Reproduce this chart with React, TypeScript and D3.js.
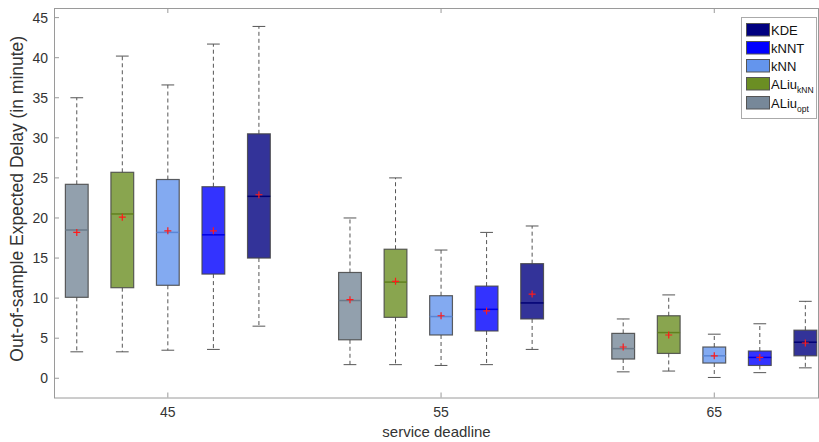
import * as React from "react";
import * as d3 from "d3";

// deadlines (x groups) and methods in left-to-right order inside each group
const deadlines = ["45", "55", "65"];
const methods = ["ALiu_opt", "ALiu_kNN", "kNN", "kNNT", "KDE"];
const methodColors = ["#778899", "#6b8e23", "#6495ed", "#0000ff", "#000080"];
const legendOrder = ["KDE", "kNNT", "kNN", "ALiu_kNN", "ALiu_opt"];

// box statistics, one row per deadline, one value per method
const lowWhisker = [
  [3.3, 3.3, 3.5, 3.6, 6.5],
  [1.7, 1.7, 1.6, 1.7, 3.6],
  [0.8, 0.9, 0.1, 0.7, 1.3],
];
const q1 = [
  [10.1, 11.3, 11.6, 13.0, 15.0],
  [4.8, 7.6, 5.4, 5.9, 7.4],
  [2.4, 3.1, 1.9, 1.6, 2.8],
];
const median = [
  [18.5, 20.5, 18.2, 17.9, 22.7],
  [9.7, 12.0, 7.7, 8.6, 9.4],
  [3.7, 5.7, 2.8, 2.6, 4.5],
];
const q3 = [
  [24.2, 25.7, 24.8, 23.9, 30.5],
  [13.2, 16.1, 10.3, 11.5, 14.3],
  [5.6, 7.8, 3.9, 3.4, 6.0],
];
const highWhisker = [
  [35.0, 40.2, 36.6, 41.7, 43.9],
  [20.0, 25.0, 16.0, 18.2, 19.0],
  [7.4, 10.4, 5.5, 6.8, 9.6],
];
const means = [
  [18.2, 20.1, 18.4, 18.4, 22.9],
  [9.8, 12.1, 7.8, 8.4, 10.5],
  [3.9, 5.4, 2.8, 2.6, 4.4],
];
const yTicks = [0, 5, 10, 15, 20, 25, 30, 35, 40, 45];

const FONT = "'Liberation Sans', Arial, Helvetica, sans-serif";

export default function App() {
  const ref = React.useRef<SVGSVGElement>(null);

  React.useEffect(() => {
    const width = 819, height = 442;
    const margin = {top: 8, right: 0, bottom: 45, left: 54};
    const svg = d3.select(ref.current);
    svg.selectAll("*").remove();

    // box positions 1..5, 7..11, 13..17
    const pos = (g: number, m: number) => g * 6 + m + 1;
    const x = d3.scaleLinear().domain([0.5, 17.3]).range([margin.left, width - margin.right]);
    const y = d3.scaleLinear().domain([-2.4, 46.2]).range([height - margin.bottom + 0.5, margin.top]);
    const bw = 0.5, cw = 0.14;
    const x0 = margin.left, x1 = width - margin.right, y0 = y.range()[0], y1 = margin.top;

    const axisColor = "#9a9a9a";
    const textColor = "#333";

    // plot box
    svg.append("rect")
      .attr("x", x0 + 0.5).attr("y", y1 + 0.5)
      .attr("width", x1 - x0 - 1).attr("height", y0 - y1)
      .attr("fill", "none").attr("stroke", axisColor).attr("stroke-width", 1);

    // ticks (inward)
    yTicks.forEach(t => {
      svg.append("line")
        .attr("x1", x0).attr("x2", x0 + 5)
        .attr("y1", y(t)).attr("y2", y(t))
        .attr("stroke", axisColor);
      svg.append("text")
        .attr("x", x0 - 6).attr("y", y(t)).attr("dy", "0.35em")
        .attr("text-anchor", "end")
        .attr("font-family", FONT).attr("font-size", 14).attr("fill", textColor)
        .text(t);
    });
    deadlines.forEach((d, g) => {
      const cx = x(pos(g, 2));
      svg.append("line")
        .attr("x1", cx).attr("x2", cx).attr("y1", y0).attr("y2", y0 - 5)
        .attr("stroke", axisColor);
      svg.append("line")
        .attr("x1", cx).attr("x2", cx).attr("y1", y1).attr("y2", y1 + 5)
        .attr("stroke", axisColor);
      svg.append("text")
        .attr("x", cx).attr("y", y0 + 19)
        .attr("text-anchor", "middle")
        .attr("font-family", FONT).attr("font-size", 14).attr("fill", textColor)
        .text(d);
    });

    // axis titles
    svg.append("text")
      .attr("x", (x0 + x1) / 2).attr("y", 437)
      .attr("text-anchor", "middle")
      .attr("font-family", FONT).attr("font-size", 15).attr("fill", textColor)
      .text("service deadline");
    svg.append("text")
      .attr("transform", `translate(23,${(y0 + y1) / 2 - 4}) rotate(-90)`)
      .attr("text-anchor", "middle")
      .attr("font-family", FONT).attr("font-size", 17.5).attr("fill", textColor)
      .text("Out-of-sample Expected Delay (in minute)");

    // boxes
    deadlines.forEach((d, g) => {
      methods.forEach((m, i) => {
        const p = pos(g, i);
        const cx = x(p);
        const col = methodColors[i];
        const grp = svg.append("g").attr("class", "box");
        // whiskers
        grp.append("line")
          .attr("x1", cx).attr("x2", cx).attr("y1", y(q3[g][i])).attr("y2", y(highWhisker[g][i]))
          .attr("stroke", "#555").attr("stroke-dasharray", "4,3");
        grp.append("line")
          .attr("x1", cx).attr("x2", cx).attr("y1", y(q1[g][i])).attr("y2", y(lowWhisker[g][i]))
          .attr("stroke", "#555").attr("stroke-dasharray", "4,3");
        [highWhisker[g][i], lowWhisker[g][i]].forEach(v => {
          grp.append("line")
            .attr("x1", x(p - cw)).attr("x2", x(p + cw)).attr("y1", y(v)).attr("y2", y(v))
            .attr("stroke", "#555");
        });
        // box
        grp.append("rect")
          .attr("x", x(p - bw / 2)).attr("y", y(q3[g][i]))
          .attr("width", x(p + bw / 2) - x(p - bw / 2))
          .attr("height", y(q1[g][i]) - y(q3[g][i]))
          .attr("fill", col).attr("fill-opacity", 0.8)
          .attr("stroke", "#444").attr("stroke-opacity", 0.85).attr("stroke-width", 1.2);
        // median
        grp.append("line")
          .attr("x1", x(p - bw / 2)).attr("x2", x(p + bw / 2))
          .attr("y1", y(median[g][i])).attr("y2", y(median[g][i]))
          .attr("stroke", d3.color(col)!.darker(0.3).toString()).attr("stroke-width", 1.5);
        // mean marker
        const my = y(means[g][i]);
        grp.append("path")
          .attr("d", `M${cx - 3.5},${my}H${cx + 3.5}M${cx},${my - 3.5}V${my + 3.5}`)
          .attr("stroke", "#ff1a1a").attr("stroke-width", 1.2);
      });
    });

    // legend
    const lg = svg.append("g").attr("transform", "translate(741,17)");
    lg.append("rect")
      .attr("x", 0.5).attr("y", 0.5).attr("width", 75).attr("height", 101)
      .attr("fill", "#fff").attr("stroke", "#aaa");
    legendOrder.forEach((name, k) => {
      const i = methods.indexOf(name);
      const ry = 6 + k * 18 + (k === 4 ? 1 : 0);
      lg.append("rect")
        .attr("x", 5.5).attr("y", ry + 0.5).attr("width", 23).attr("height", 12.5)
        .attr("fill", methodColors[i]).attr("stroke", "#555");
      const t = lg.append("text")
        .attr("x", 30).attr("y", ry + 11.5)
        .attr("font-family", FONT).attr("font-size", 13).attr("fill", "#111");
      if (name.startsWith("ALiu_")) {
        t.append("tspan").text("ALiu");
        t.append("tspan").attr("dy", 4).attr("font-size", 8.5).text(name.slice(5));
      } else {
        t.text(name);
      }
    });
  }, []);

  return <svg ref={ref} width={819} height={442}
              style={{position: "absolute", left: 0, top: 0, background: "#fff"}}/>;
}
